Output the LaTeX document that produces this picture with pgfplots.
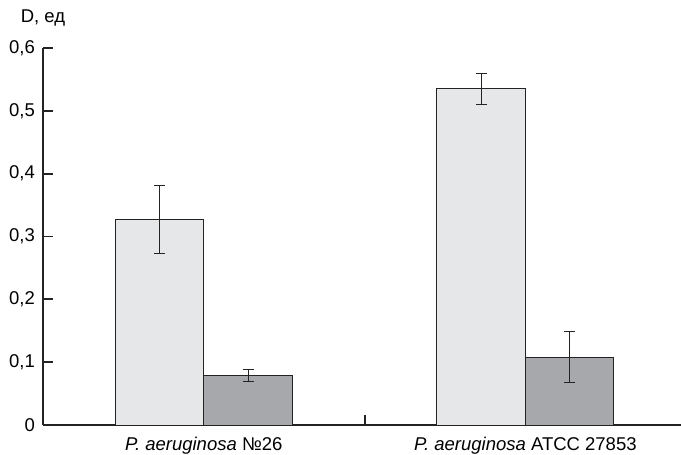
\documentclass[border=0pt]{standalone}
\usepackage{pgfplots}
\pgfplotsset{compat=1.18}
\usepackage{fontspec}
\setmainfont{Liberation Sans}
\definecolor{lightbar}{RGB}{230,231,233}
\definecolor{darkbar}{RGB}{167,168,171}
\definecolor{ink}{RGB}{35,35,35}
\begin{document}
\fontsize{18.5bp}{22bp}\selectfont
\begin{tikzpicture}
\begin{axis}[name=ax, at={(0,0)}, anchor=south west,
  scale only axis, width=638bp, height=377bp,
  xmin=0.5, xmax=2.484, ymin=0, ymax=0.6,
  ybar=0pt, bar width=0.275,
  axis x line*=bottom, axis y line*=left,
  axis line style={line width=2bp, ink},
  tick align=inside, major tick length=9.5bp,
  ytick={0,0.1,0.2,0.3,0.4,0.5,0.6},
  ytick style={line width=1.9bp, ink},
  /pgf/number format/.cd, use comma, fixed, precision=1, assume math mode=true, /pgfplots/.cd,
  tick label style={font=\fontsize{18.5bp}{22bp}\selectfont},
  yticklabel style={anchor=east, inner sep=0pt, xshift=-8bp},
  xtick={1,2},
  xticklabels={{\textit{P. aeruginosa} №26},{\textit{P. aeruginosa} ATCC 27853}},
  xticklabel style={anchor=base, inner sep=0pt, yshift=-26bp},
  xtick style={draw=none},
  extra x ticks={1.5}, extra x tick labels={},
  extra x tick style={xtick style={draw=ink, line width=1.9bp}},
  title={D, ед},
  title style={at={(axis description cs:0,1)}, anchor=base, yshift=20bp, inner sep=0pt, font=\fontsize{18.5bp}{22bp}\selectfont},
  clip=false,
  every axis plot/.append style={draw=ink, line width=0.9bp},
  error bars/y dir=both, error bars/y explicit,
  error bars/error bar style={line width=1bp, ink},
  error bars/error mark options={mark size=5.5bp, line width=1bp, ink, rotate=90},
]
\addplot[fill=lightbar]
  coordinates {(1,0.327) +- (0,0.054) (2,0.535) +- (0,0.025)};
\addplot[fill=darkbar]
  coordinates {(1,0.079) +- (0,0.010) (2,0.108) +- (0,0.040)};
\end{axis}
\pgfresetboundingbox
\path[use as bounding box] ([xshift=-43bp,yshift=-30bp]ax.south west) rectangle ([yshift=48bp]ax.north east);
\end{tikzpicture}
\end{document}
